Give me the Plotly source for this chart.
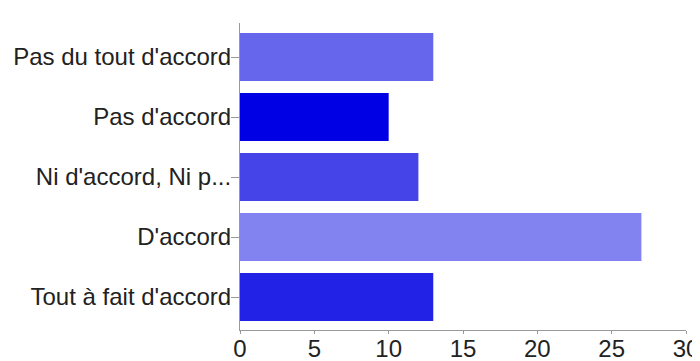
import plotly.graph_objects as go

# Données
categories = [
    "Pas du tout d'accord",
    "Pas d'accord",
    "Ni d'accord, Ni p...",
    "D'accord",
    "Tout à fait d'accord",
]
counts = [13, 10, 12, 27, 13]
bar_colors = ["#6666EC", "#0000E4", "#4444E8", "#8282F0", "#2222E6"]
x_ticks = [0, 5, 10, 15, 20, 25, 30]

FONT = "Arial, Liberation Sans, sans-serif"

fig = go.Figure(
    go.Bar(
        x=counts,
        y=categories,
        orientation="h",
        marker=dict(color=bar_colors, line=dict(width=0)),
        width=0.8,
    )
)

# la page ajoute ~8 px de marge : figure un peu plus petite que la fenêtre
fig.update_layout(
    width=692,
    height=353,
    margin=dict(l=232, r=14, t=15, b=31),
    paper_bgcolor="white",
    plot_bgcolor="white",
    showlegend=False,
    font=dict(family=FONT, size=24, color="#222222"),
)
fig.update_xaxes(
    range=[0, 30],
    tickvals=x_ticks,
    automargin=False,
    showgrid=False,
    zeroline=False,
    showline=True,
    linecolor="#999999",
    linewidth=1,
    ticks="outside",
    ticklen=3,
    tickcolor="#999999",
    tickfont=dict(size=24),
    ticklabelstandoff=-6,
)
fig.update_yaxes(
    categoryorder="array",
    categoryarray=categories,
    range=[4.55, -0.567],
    automargin=False,
    showgrid=False,
    showline=True,
    linecolor="#999999",
    linewidth=1,
    ticks="outside",
    ticklen=8,
    tickcolor="#999999",
    tickfont=dict(size=24),
    ticklabelstandoff=-5,
)

fig.write_html("out.html")
